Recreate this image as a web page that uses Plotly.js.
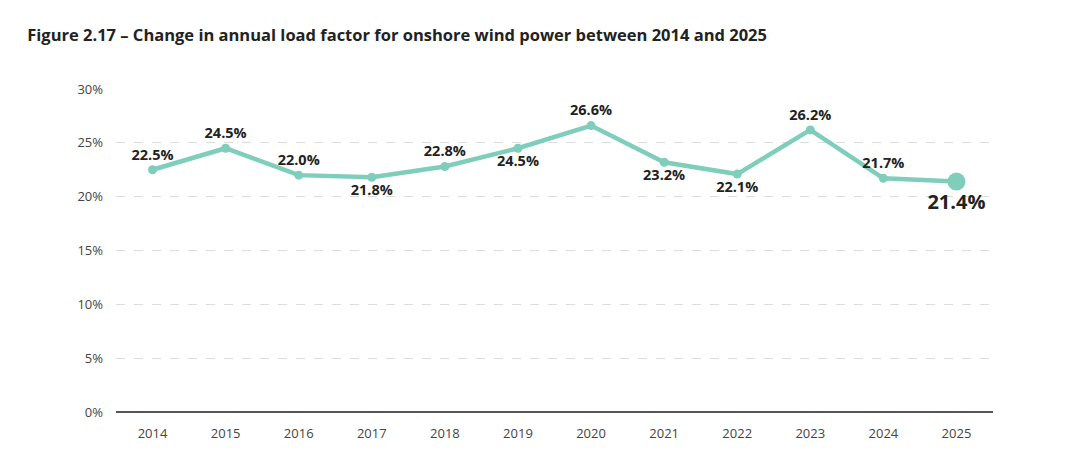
<!DOCTYPE html>
<html><head><meta charset="utf-8">
<script src="https://cdn.plot.ly/plotly-3.0.1.min.js"></script>
<style>html,body{margin:0;padding:0;background:#fff}#c{width:1090px;height:467px}</style>
</head><body><div id="c"></div>
<script>
const years = ["2014","2015","2016","2017","2018","2019","2020","2021","2022","2023","2024","2025"];
const loadFactor = [22.5,24.5,22.0,21.8,22.8,24.5,26.6,23.2,22.1,26.2,21.7,21.4];
const labelPos = ["top center","top center","top center","bottom center","top center","bottom center","top center","bottom center","bottom center","top center","top center","bottom center"];
const yTicks = [0,5,10,15,20,25,30];

const n = years.length;
const mainX = years.slice(0, n-1), mainY = loadFactor.slice(0, n-1);
const col = "#7fcdbb";
const fam = "'Open Sans', sans-serif";
const traces = [
  {x: years, y: loadFactor, type: "scatter", mode: "lines", line: {color: col, width: 4.5}, hoverinfo: "skip", cliponaxis: false},
  {x: mainX, y: mainY, type: "scatter", mode: "markers+text", marker: {color: col, size: 9},
   text: mainY.map(v => v.toFixed(1) + "%"), textposition: labelPos.slice(0, n-1),
   textfont: {family: fam, size: 14.5, color: "#222", weight: 700}, cliponaxis: false},
  {x: [years[n-1]], y: [loadFactor[n-1]], type: "scatter", mode: "markers+text", marker: {color: col, size: 18},
   text: [loadFactor[n-1].toFixed(1) + "%"], textposition: [labelPos[n-1]],
   textfont: {family: fam, size: 20, color: "#222", weight: 700}, cliponaxis: false}
];
const layout = {
  width: 1090, height: 467, showlegend: false,
  paper_bgcolor: "#fff", plot_bgcolor: "#fff",
  margin: {l: 116, r: 97, t: 89, b: 55},
  title: {text: "<b>Figure 2.17 – Change in annual load factor for onshore wind power between 2014 and 2025</b>",
    x: 0.025, xanchor: "left", y: 0.925, yanchor: "middle", font: {family: fam, size: 16.5, color: "#222"}},
  xaxis: {type: "category", range: [-0.5, 11.5], showgrid: false, zeroline: false, showline: false,
    ticks: "", ticklabelstandoff: 12, tickfont: {family: fam, size: 13, color: "#444"}, fixedrange: true},
  yaxis: {range: [0, 30], tickvals: yTicks, ticktext: yTicks.map(v => v + "%"),
    showgrid: true, gridcolor: "#dcdcdc", griddash: "dash", gridwidth: 1,
    zeroline: true, zerolinecolor: "#555", zerolinewidth: 1.5,
    ticks: "", ticklabelstandoff: 12, tickfont: {family: fam, size: 13, color: "#444"}, fixedrange: true}
};
Plotly.newPlot("c", traces, layout, {displayModeBar: false, staticPlot: true});
</script></body></html>
